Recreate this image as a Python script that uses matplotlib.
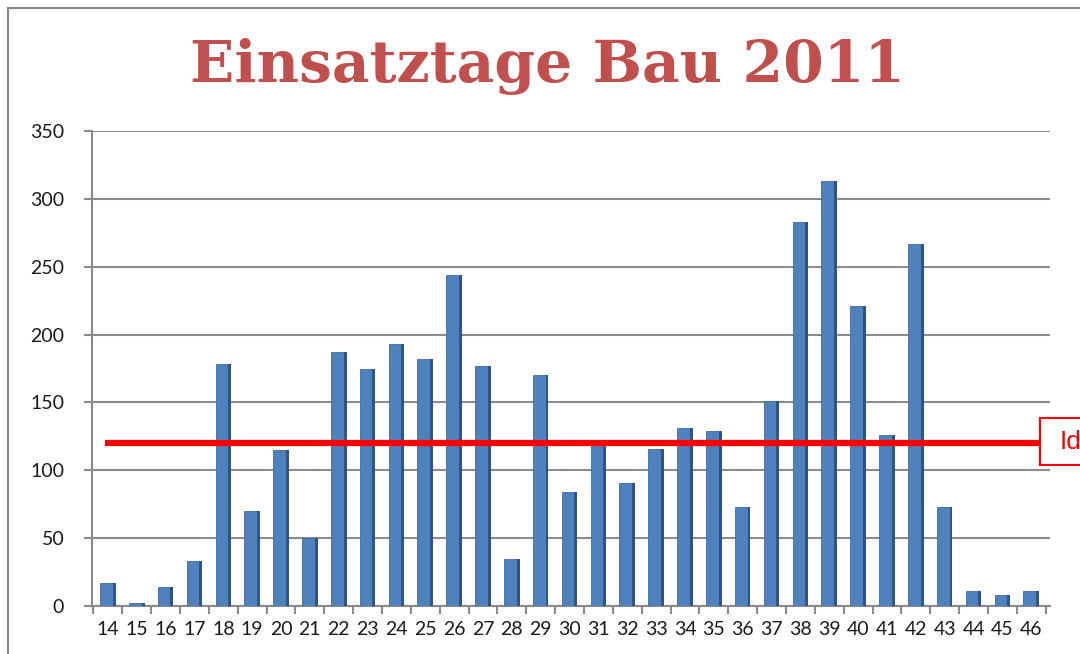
import matplotlib
matplotlib.use("Agg")
import matplotlib.pyplot as plt
from matplotlib.patches import Rectangle
import numpy as np

weeks = [str(w) for w in range(14, 47)]
einsatztage = [17, 2, 14, 33, 178, 70, 115, 50, 187, 175, 193, 182, 244, 177, 35, 170,
               84, 120, 91, 116, 131, 129, 73, 151, 283, 313, 221, 126, 267, 73, 11, 8, 11]
ziel = 120
yticks = [0, 50, 100, 150, 200, 250, 300, 350]
title = "Einsatztage Bau 2011"
label_box = "Id"

W, H = 1080, 654
fig = plt.figure(figsize=(W / 100, H / 100), dpi=100)
fig.patch.set_facecolor("white")

# outer chart frame (partly cut off at right/bottom)
fig.add_artist(Rectangle((8 / W, -0.1), 1.2, 1 - 8 / H + 0.1, transform=fig.transFigure,
                         fill=False, edgecolor="#8a8a8a", linewidth=1.6))

ax = fig.add_axes([92 / W, 1 - 606 / H, (1050 - 92) / W, (606 - 131) / H])
x = np.arange(len(weeks))
bw = 0.44
ax.bar(x - 0.05, einsatztage, width=bw, color="#4F81BD", edgecolor="#3E6CA3",
       linewidth=0.6, zorder=3)
ax.bar(x - 0.05 + bw / 2 + 0.05, einsatztage, width=0.1, color="#2F5588",
       linewidth=0, zorder=3)

ax.set_xlim(-0.55, len(weeks) - 0.35)
ax.set_ylim(0, 350)
ax.set_yticks(yticks)
ax.set_yticklabels([str(v) for v in yticks])
ax.set_xticks(x)
ax.set_xticklabels(weeks)
ax.set_xticks(np.arange(-0.5, len(weeks), 1.0), minor=True)
ax.tick_params(axis="x", which="major", length=0, pad=11)
ax.tick_params(axis="x", which="minor", length=6, width=1.5, color="#8a8a8a", direction="out")
ax.tick_params(axis="y", length=6, width=1.5, color="#8a8a8a", pad=14)
for lab in ax.get_xticklabels() + ax.get_yticklabels():
    lab.set_fontfamily("Lato")
    lab.set_fontsize(14)
    lab.set_color("#1a1a1a")

ax.grid(axis="y", color="#8c8c8c", linewidth=1.5, zorder=0)
for s in ["top", "right"]:
    ax.spines[s].set_visible(False)
ax.spines["left"].set_color("#8a8a8a")
ax.spines["left"].set_linewidth(1.5)
ax.spines["bottom"].set_color("#8a8a8a")
ax.spines["bottom"].set_linewidth(1.5)

# target line
ax.plot([-0.1, len(weeks) - 0.7], [ziel, ziel], color="#FF0000", linewidth=4.5,
        zorder=5, solid_capstyle="butt", clip_on=False)

# cut-off label box at right
fig.add_artist(Rectangle((1040 / W, 1 - 465 / H), 0.2, 47 / H, transform=fig.transFigure,
                         facecolor="white", edgecolor="#FF0000", linewidth=1.5))
fig.text(1060 / W, 1 - 442 / H, label_box, color="#FF0000", fontsize=19,
         fontfamily="Liberation Sans", va="center", ha="left")

fig.text(548 / W, 1 - 82 / H, title, color="#C0504D", fontsize=42, fontweight="bold",
         fontfamily="DejaVu Serif", ha="center", va="baseline")

fig.savefig("out.png", dpi=100)
